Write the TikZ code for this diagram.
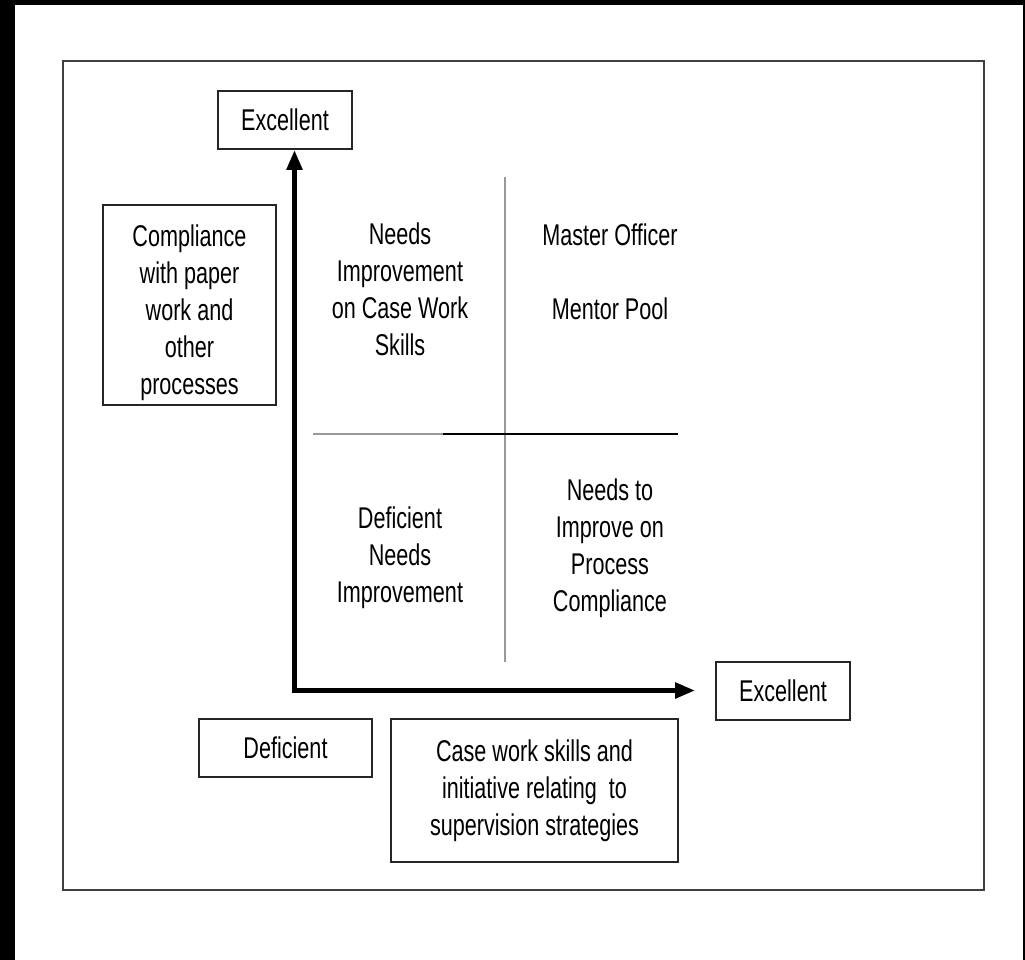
\documentclass[tikz,border=0pt]{standalone}
\usepackage{fontspec}
\setmainfont{Liberation Sans}[FakeStretch=0.72]
\usetikzlibrary{arrows.meta}

\begin{document}
\begin{tikzpicture}[x=0.5pt,y=-0.5pt,
	    labelbox/.style={draw=black!85,line width=0.8pt,inner sep=0pt,align=center},
	    quadtext/.style={align=center},
	    axis/.style={line width=2.8pt,{Triangle[length=10pt,width=7.5pt]}-{Triangle[length=10pt,width=7.5pt]},shorten >=10pt},
	    every node/.style={font=\fontsize{15}{18.5}\selectfont}]
	    \useasboundingbox (0,0) rectangle (1025,960);
	    \fill [black] (0,0) rectangle (1025,960);
	    \fill [white] (15,5) rectangle (1023,960);
	    \draw [black!75,line width=1pt] (63,61) rectangle (984,890);
	    \node [labelbox,minimum width=67pt,minimum height=29pt] (exy) at (285,120) {Excellent};
	    \node [labelbox,minimum width=86.5pt,minimum height=100pt,
	        label={[quadtext,yshift=-4pt]center:Compliance\\with paper\\work and\\other\\processes}] (comp) at (189.5,305) {};
	    \node [labelbox,minimum width=67pt,minimum height=29pt] (exx) at (783,691) {Excellent};
	    \node [labelbox,minimum width=86.5pt,minimum height=29pt] (def) at (285.5,748) {Deficient};
	    \node [labelbox,minimum width=143.5pt,minimum height=71.5pt] (case) at (534.5,790.5) {Case work skills and\\initiative relating\ \ to\\supervision strategies};
	    % quadrants
	    \node [quadtext] (qtl) at (400,289) {Needs\\Improvement\\on Case Work\\Skills};
	    \node [quadtext] (qtr) at (610,271.5) {Master Officer\\[18.5pt]Mentor Pool};
	    \node [quadtext] (qbl) at (400,558) {Deficient\\Needs\\Improvement};
	    \node [quadtext] (qbr) at (610,548) {Needs to\\Improve on\\Process\\Compliance};
	    \coordinate (vtop) at (505,177);
	    \coordinate (vbot) at (505,662);
	    \coordinate (hleft) at (313,434);
	    \coordinate (hmid) at (443,434);
	    \coordinate (hright) at (678,434);
	    \draw [black!40,line width=1pt] (vtop) -- (vbot);
	    \draw [black!40,line width=1pt] (hleft) -- (hmid);
	    \draw [black,line width=1pt] (hmid) -- (hright);
	    % axes
	    \coordinate (origin) at (294.5,690.5);
	    \draw [axis] (exy.south -| origin) -- (origin) -- (exx.west |- origin);
\end{tikzpicture}
\end{document}
